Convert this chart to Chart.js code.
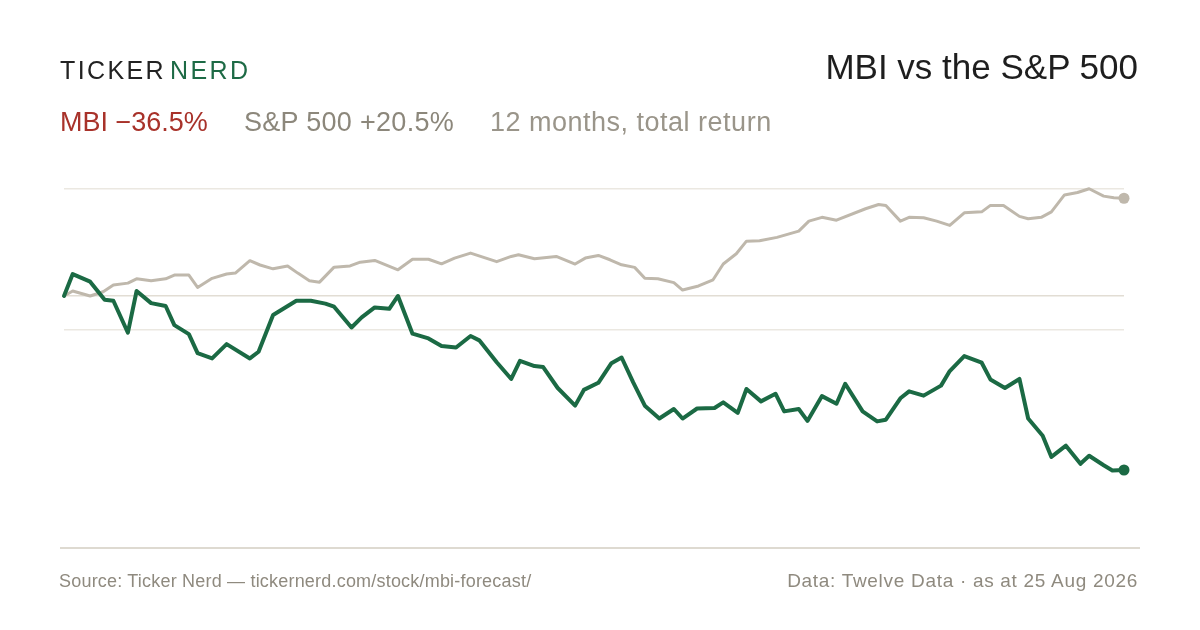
<!DOCTYPE html>
<html>
<head>
<meta charset="utf-8">
<script src="https://cdn.jsdelivr.net/npm/chart.js@4/dist/chart.umd.min.js"></script>
<style>
  html, body { margin: 0; padding: 0; background: #fff; }
  #page { position: relative; width: 1200px; height: 630px; overflow: hidden; font-family: "Liberation Sans", Arial, sans-serif; }
  #page div.t { position: absolute; line-height: 1; white-space: nowrap; }
  #chartBox { position: absolute; left: 0; top: 0; width: 1200px; height: 630px; }
  #rule { position: absolute; left: 60px; top: 547px; width: 1080px; height: 1.5px; background: #dedad1; }
</style>
</head>
<body>
<div id="page">
  <div id="chartBox"><canvas id="c"></canvas></div>
  <div class="t" style="left:60px; top:58px; font-size:25px; letter-spacing:2.4px; color:#222;">TICKER<span style="margin-left:4px; color:#1d6a45;">NERD</span></div>
  <div class="t" style="right:62px; top:49px; font-size:35px; color:#1e1e1e;">MBI vs the S&amp;P 500</div>
  <div class="t" style="left:60px; top:109px; font-size:27px; color:#a8322a;">MBI −36.5%</div>
  <div class="t" style="left:244px; top:109px; font-size:27px; letter-spacing:0.3px; color:#8c877b;">S&amp;P 500 +20.5%</div>
  <div class="t" style="left:490px; top:109px; font-size:27px; letter-spacing:0.5px; color:#9a958a;">12 months, total return</div>
  <div id="rule"></div>
  <div class="t" style="left:59px; top:572px; font-size:18px; letter-spacing:0.2px; color:#8f8a7f;">Source: Ticker Nerd — tickernerd.com/stock/mbi-forecast/</div>
  <div class="t" style="right:62px; top:571px; font-size:19px; letter-spacing:0.7px; color:#8f8a7f;">Data: Twelve Data · as at 25 Aug 2026</div>
</div>
<script>
// days since 25 Aug 2025, total return in %
let mbiDays = [0, 3, 9, 14, 17, 22, 25, 30, 35, 38, 43, 46, 51, 56, 64, 67, 72, 80, 85, 90, 93, 99, 102.5, 107, 112, 115, 120, 125.5, 130, 135, 140, 143, 149, 154, 157, 162, 165, 170, 176, 179, 184, 188.5, 192, 196, 200, 205, 210, 213, 218, 224, 227, 232, 235, 240, 245, 248, 253, 256, 261, 266, 269, 275, 280, 283, 288, 291, 296, 302, 305, 310, 316, 319, 324, 329, 332, 337, 340, 345, 350, 353, 358, 361, 365];
let mbiReturns = [0, 4.6, 3.0, -0.8, -1.0, -7.7, 1.05, -1.5, -2.1, -6.1, -8.0, -12.0, -13.1, -10.1, -13.1, -11.7, -4.0, -1.0, -1.0, -1.6, -2.25, -6.6, -4.5, -2.4, -2.7, 0.0, -7.9, -8.9, -10.5, -10.8, -8.4, -9.3, -13.9, -17.4, -13.6, -14.7, -14.9, -19.3, -23.0, -19.7, -18.2, -14.1, -12.9, -18.1, -23.0, -25.7, -23.7, -25.7, -23.6, -23.5, -22.3, -24.5, -19.5, -22.1, -20.5, -24.2, -23.7, -26.2, -21.0, -22.6, -18.4, -24.2, -26.3, -25.95, -21.45, -20.0, -20.9, -18.8, -15.75, -12.6, -14.0, -17.5, -19.3, -17.4, -25.7, -29.3, -33.75, -31.4, -35.2, -33.5, -35.5, -36.6, -36.5];

let spxDays = [0, 3, 9, 13.5, 17, 22, 25, 30, 35, 38, 43, 46, 51, 56, 59, 64, 67.5, 72, 77, 80.5, 84.5, 88, 93, 98.5, 102, 107, 115, 120, 125.5, 130, 134.5, 140, 149, 154, 156.5, 162, 169.5, 176, 179.5, 184, 188, 192, 196.5, 200, 204.5, 210, 213, 218.5, 223.5, 227, 231.5, 235, 239.5, 245.5, 253, 256.5, 261, 266, 276, 280.5, 283, 288, 291, 296, 300.5, 305, 310, 316, 319, 323.5, 329, 332, 336.5, 340, 344.5, 349, 353, 358, 361.5, 365];
let spxReturns = [0, 1.05, 0, 0.9, 2.3, 2.7, 3.6, 3.2, 3.6, 4.4, 4.4, 1.8, 3.7, 4.6, 4.8, 7.4, 6.5, 5.7, 6.3, 4.8, 3.2, 2.9, 6.05, 6.3, 7.1, 7.45, 5.5, 7.7, 7.7, 6.75, 7.95, 9.0, 7.2, 8.3, 8.65, 7.8, 8.3, 6.7, 7.95, 8.5, 7.6, 6.55, 6.0, 3.7, 3.6, 2.8, 1.25, 2.1, 3.4, 6.7, 8.85, 11.5, 11.6, 12.3, 13.6, 15.7, 16.5, 15.9, 18.3, 19.2, 19.0, 15.7, 16.5, 16.4, 15.7, 14.8, 17.45, 17.65, 19.0, 19.0, 16.7, 16.2, 16.5, 17.65, 21.2, 21.7, 22.5, 20.95, 20.6, 20.5];

let gridValues = [22.4, 0, -7.1];

let green = "#1b6a44";
let sand = "#bfb8ac";

function toPoints(days, vals) {
    return days.map((d, i) => ({ x: d, y: vals[i] }));
}

function lastDot(size) {
    return function (ctx) {
        return ctx.dataIndex === ctx.dataset.data.length - 1 ? size : 0;
    };
}

let ctx = document.getElementById("c").getContext("2d");

new Chart(ctx, {
    type: "line",
    data: {
        datasets: [
            {
                label: "MBI",
                data: toPoints(mbiDays, mbiReturns),
                borderColor: green,
                backgroundColor: green,
                borderWidth: 4,
                pointRadius: lastDot(5.5),
                pointBorderWidth: 0,
                pointHoverRadius: 0,
                tension: 0,
                borderJoinStyle: "round",
                borderCapStyle: "round",
                clip: false
            },
            {
                label: "S&P 500",
                data: toPoints(spxDays, spxReturns),
                borderColor: sand,
                backgroundColor: sand,
                borderWidth: 3,
                pointRadius: lastDot(5.5),
                pointBorderWidth: 0,
                pointHoverRadius: 0,
                tension: 0,
                borderJoinStyle: "round",
                borderCapStyle: "round",
                clip: false
            }
        ]
    },
    options: {
        responsive: true,
        maintainAspectRatio: false,
        animation: false,
        events: [],
        layout: { padding: { left: 64, right: 76, top: 176.8, bottom: 143.3 } },
        plugins: { legend: { display: false }, tooltip: { enabled: false } },
        scales: {
            x: { type: "linear", min: 0, max: 365, display: false },
            y: {
                type: "linear",
                min: -40,
                max: 25,
                border: { display: false },
                ticks: { display: false },
                afterBuildTicks: function (scale) {
                    scale.ticks = gridValues.map(v => ({ value: v }));
                },
                grid: {
                    drawTicks: false,
                    lineWidth: 1.5,
                    color: function (c) {
                        return c.tick && c.tick.value === 0 ? "#e2ddd4" : "#ebe8e1";
                    }
                }
            }
        }
    }
});
</script>
</body>
</html>
